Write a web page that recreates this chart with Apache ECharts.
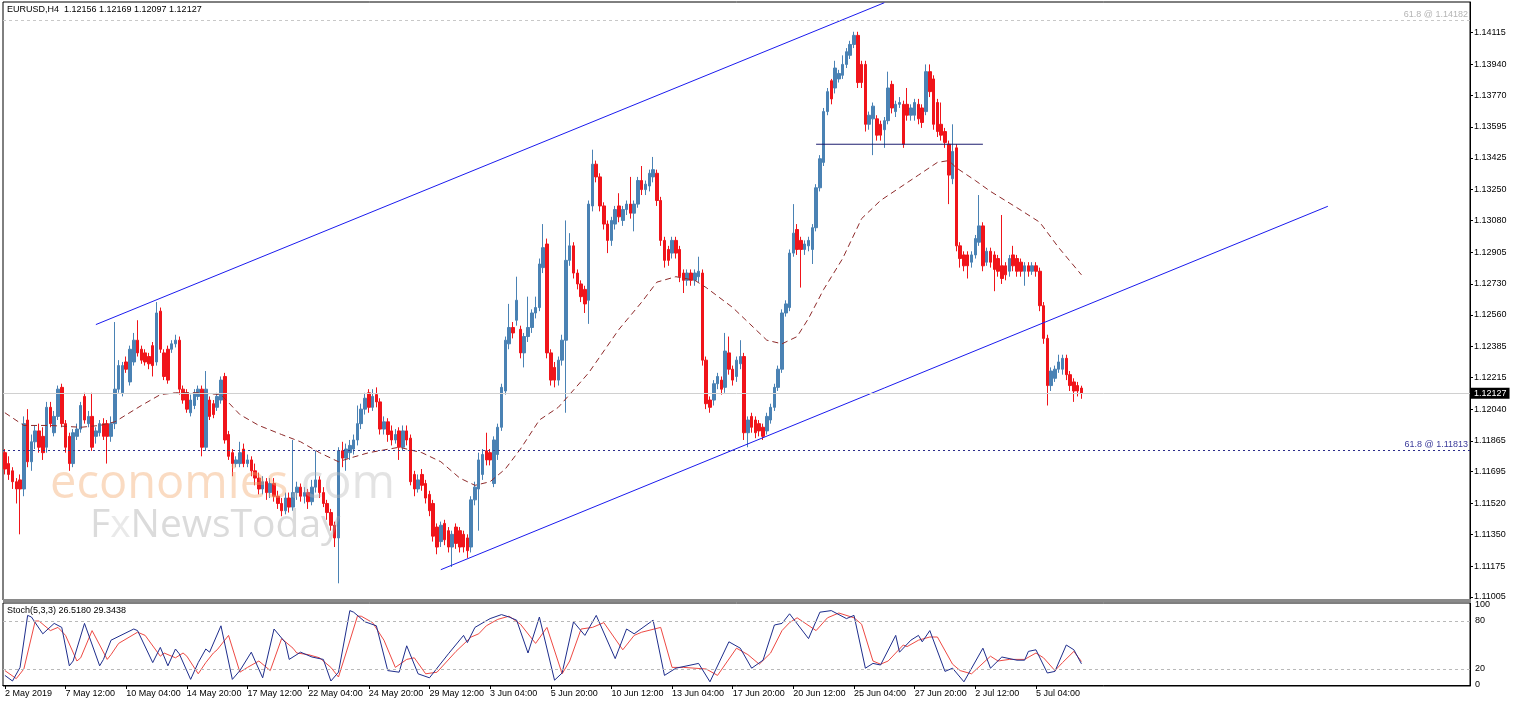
<!DOCTYPE html>
<html>
<head>
<meta charset="utf-8">
<script src="https://cdn.jsdelivr.net/npm/echarts@6.0.0/dist/echarts.min.js"></script>
<style>
html,body{margin:0;padding:0;background:#fff;}
#chart{width:1515px;height:706px;}
</style>
</head>
<body>
<div id="chart"></div>
<script>
// ---------- DATA ----------
const symbolTitle = 'EURUSD,H4  1.12156 1.12169 1.12097 1.12127';
const stochTitle = 'Stoch(5,3,3) 26.5180 29.3438';
const tickLabels = ['2 May 2019','7 May 12:00','10 May 04:00','14 May 20:00','17 May 12:00','22 May 04:00','24 May 20:00','29 May 12:00','3 Jun 04:00','5 Jun 20:00','10 Jun 12:00','13 Jun 04:00','17 Jun 20:00','20 Jun 12:00','25 Jun 04:00','27 Jun 20:00','2 Jul 12:00','5 Jul 04:00'];
const barsPerTick = 16;
const slotCount = 387; // bar slots across the chart width (chart shifted)
const priceTicks = [1.14115,1.13940,1.13770,1.13595,1.13425,1.13250,1.13080,1.12905,1.12730,1.12560,1.12385,1.12215,1.12040,1.11865,1.11695,1.11520,1.11350,1.11175,1.11005];
const stochTicks = [0,20,80,100];
const lastPrice = 1.12127;
const fiboTop = 1.14182;
const fiboBottom = 1.11813;

// [open, close, low, high]
const ohlc = [
[1.1180,1.1171,1.1168,1.1182],[1.1174,1.1168,1.1165,1.1178],[1.1170,1.1164,1.1160,1.1172],[1.1164,1.1160,1.1152,1.1166],
[1.1165,1.1160,1.1135,1.1168],[1.1160,1.1196,1.1156,1.1200],[1.1198,1.1175,1.1172,1.1204],[1.1175,1.1186,1.1170,1.1190],
[1.1186,1.1192,1.1182,1.1195],[1.1192,1.1183,1.1180,1.1196],[1.1189,1.1180,1.1176,1.1194],[1.1183,1.1205,1.1180,1.1208],
[1.1205,1.1196,1.1194,1.1208],[1.1191,1.1200,1.1189,1.1203],[1.1200,1.1215,1.1198,1.1217],[1.1216,1.1196,1.1194,1.1218],
[1.1196,1.1183,1.1180,1.1198],[1.1189,1.1174,1.1170,1.1191],[1.1174,1.1191,1.1172,1.1193],[1.1189,1.1193,1.1187,1.1196],
[1.1193,1.1206,1.1191,1.1208],[1.1211,1.1198,1.1196,1.1213],[1.1196,1.1200,1.1194,1.1203],[1.1200,1.1183,1.1181,1.1213],
[1.1189,1.1192,1.1185,1.1194],[1.1191,1.1196,1.1189,1.1198],[1.1196,1.1189,1.1187,1.1199],[1.1196,1.1189,1.1174,1.1198],
[1.1189,1.1196,1.1186,1.1200],[1.1196,1.1215,1.1193,1.1252],[1.1215,1.1228,1.1213,1.1231],[1.1213,1.1228,1.1211,1.1230],
[1.1230,1.1226,1.1224,1.1233],[1.1219,1.1237,1.1217,1.1239],[1.1230,1.1242,1.1228,1.1246],[1.1242,1.1235,1.1233,1.1253],
[1.1237,1.1231,1.1229,1.1239],[1.1235,1.1230,1.1228,1.1237],[1.1233,1.1229,1.1226,1.1235],[1.1239,1.1228,1.1222,1.1241],
[1.1230,1.1257,1.1228,1.1263],[1.1258,1.1237,1.1235,1.1260],[1.1235,1.1222,1.1220,1.1237],[1.1237,1.1220,1.1218,1.1239],
[1.1237,1.1240,1.1235,1.1242],[1.1240,1.1242,1.1238,1.1245],[1.1242,1.1215,1.1212,1.1244],[1.1215,1.1209,1.1207,1.1217],
[1.1213,1.1204,1.1202,1.1215],[1.1202,1.1209,1.1200,1.1212],[1.1206,1.1213,1.1204,1.1215],[1.1211,1.1215,1.1209,1.1217],
[1.1215,1.1183,1.1178,1.1217],[1.1183,1.1215,1.1181,1.1225],[1.1209,1.1200,1.1198,1.1211],[1.1207,1.1201,1.1199,1.1209],
[1.1205,1.1211,1.1203,1.1213],[1.1209,1.1220,1.1207,1.1222],[1.1222,1.1187,1.1185,1.1224],[1.1190,1.1178,1.1176,1.1192],
[1.1180,1.1174,1.1167,1.1182],[1.1174,1.1176,1.1172,1.1178],[1.1174,1.1180,1.1172,1.1186],[1.1182,1.1174,1.1172,1.1185],
[1.1174,1.1176,1.1172,1.1179],[1.1176,1.1170,1.1167,1.1178],
[1.1170,1.1166,1.1162,1.1174],[1.1166,1.1160,1.1157,1.1169],[1.1160,1.1164,1.1157,1.1167],[1.1164,1.1158,1.1154,1.1166],
[1.1158,1.1163,1.1155,1.1166],[1.1163,1.1156,1.1153,1.1166],[1.1156,1.1152,1.1149,1.1159],[1.1152,1.1148,1.1145,1.1155],
[1.1148,1.1155,1.1146,1.1158],[1.1155,1.1150,1.1147,1.1158],[1.1150,1.1158,1.1148,1.1187],[1.1158,1.1161,1.1154,1.1164],
[1.1161,1.1156,1.1153,1.1163],[1.1156,1.1158,1.1152,1.1161],[1.1158,1.1153,1.1149,1.1160],[1.1153,1.1161,1.1151,1.1165],
[1.1161,1.1165,1.1158,1.1181],[1.1165,1.1158,1.1155,1.1167],[1.1158,1.1152,1.1150,1.1161],[1.1152,1.1147,1.1143,1.1154],
[1.1147,1.1140,1.1137,1.1149],[1.1140,1.1133,1.1128,1.1142],[1.1133,1.1181,1.1108,1.1183],
[1.1181,1.1177,1.1172,1.1186],[1.1177,1.1182,1.1170,1.1185],[1.1180,1.1184,1.1176,1.1187],[1.1182,1.1187,1.1179,1.1190],
[1.1187,1.1196,1.1184,1.1206],[1.1196,1.1204,1.1193,1.1207],[1.1204,1.1210,1.1201,1.1213],[1.1213,1.1205,1.1202,1.1215],
[1.1205,1.1211,1.1203,1.1215],[1.1212,1.1208,1.1205,1.1216],[1.1208,1.1193,1.1190,1.1210],[1.1193,1.1197,1.1190,1.1200],
[1.1197,1.1190,1.1186,1.1199],[1.1192,1.1187,1.1184,1.1195],[1.1187,1.1190,1.1185,1.1193],[1.1192,1.1183,1.1176,1.1194],
[1.1183,1.1192,1.1181,1.1195],[1.1192,1.1187,1.1184,1.1195],[1.1188,1.1164,1.1162,1.1190],[1.1168,1.1160,1.1156,1.1170],
[1.1160,1.1165,1.1158,1.1168],[1.1168,1.1162,1.1159,1.1171],[1.1163,1.1155,1.1152,1.1165],[1.1157,1.1148,1.1145,1.1159],
[1.1152,1.1134,1.1131,1.1154],[1.1139,1.1128,1.1124,1.1141],[1.1131,1.1140,1.1128,1.1142],[1.1141,1.1132,1.1129,1.1143],
[1.1137,1.1128,1.1125,1.1139],[1.1128,1.1135,1.1117,1.1137],[1.1139,1.1130,1.1127,1.1141],[1.1137,1.1128,1.1125,1.1139],
[1.1135,1.1128,1.1125,1.1137],[1.1133,1.1126,1.1122,1.1135],[1.1128,1.1154,1.1125,1.1156],[1.1154,1.1161,1.1151,1.1164],
[1.1160,1.1176,1.1137,1.1180],[1.1168,1.1179,1.1165,1.1182],[1.1181,1.1176,1.1173,1.1191],[1.1180,1.1176,1.1173,1.1182],
[1.1163,1.1187,1.1161,1.1189],[1.1179,1.1194,1.1176,1.1196],[1.1194,1.1216,1.1192,1.1218],[1.1214,1.1242,1.1212,1.1244],
[1.1240,1.1249,1.1237,1.1262],[1.1249,1.1246,1.1243,1.1252],[1.1253,1.1264,1.1250,1.1277],[1.1248,1.1235,1.1232,1.1250],
[1.1235,1.1244,1.1227,1.1246],[1.1244,1.1249,1.1241,1.1266],[1.1249,1.1257,1.1246,1.1259],[1.1257,1.1260,1.1254,1.1266],
[1.1260,1.1284,1.1258,1.1287],[1.1282,1.1293,1.1279,1.1306],[1.1295,1.1235,1.1232,1.1298],
[1.1235,1.1220,1.1217,1.1237],[1.1227,1.1220,1.1216,1.1230],[1.1220,1.1231,1.1217,1.1233],[1.1231,1.1242,1.1228,1.1245],
[1.1242,1.1286,1.1202,1.1308],[1.1286,1.1294,1.1283,1.1301],[1.1294,1.1279,1.1276,1.1296],[1.1279,1.1273,1.1270,1.1281],
[1.1273,1.1266,1.1263,1.1275],[1.1270,1.1262,1.1257,1.1272],[1.1264,1.1317,1.1251,1.1319],[1.1316,1.1339,1.1313,1.1347],
[1.1339,1.1332,1.1329,1.1341],[1.1332,1.1316,1.1313,1.1334],[1.1316,1.1306,1.1303,1.1318],[1.1306,1.1297,1.1290,1.1308],
[1.1297,1.1308,1.1294,1.1310],[1.1306,1.1314,1.1303,1.1316],[1.1316,1.1310,1.1307,1.1323],[1.1308,1.1314,1.1305,1.1316],
[1.1314,1.1317,1.1311,1.1319],[1.1317,1.1312,1.1309,1.1332],[1.1312,1.1317,1.1302,1.1319],[1.1317,1.1330,1.1315,1.1332],
[1.1330,1.1325,1.1322,1.1338],[1.1325,1.1328,1.1322,1.1330],[1.1327,1.1334,1.1324,1.1336],[1.1332,1.1336,1.1329,1.1343],
[1.1334,1.1319,1.1316,1.1336],[1.1319,1.1297,1.1294,1.1321],[1.1297,1.1286,1.1282,1.1299],[1.1292,1.1286,1.1283,1.1294],
[1.1290,1.1297,1.1287,1.1299],[1.1297,1.1290,1.1287,1.1299],[1.1292,1.1277,1.1274,1.1294],[1.1279,1.1275,1.1268,1.1281],
[1.1275,1.1279,1.1272,1.1281],[1.1279,1.1275,1.1272,1.1281],[1.1275,1.1279,1.1272,1.1281],[1.1277,1.1280,1.1274,1.1288],
[1.1279,1.1231,1.1228,1.1281],[1.1231,1.1207,1.1204,1.1233],[1.1209,1.1205,1.1202,1.1211],[1.1209,1.1218,1.1206,1.1220],
[1.1218,1.1222,1.1215,1.1224],[1.1220,1.1215,1.1212,1.1222],[1.1216,1.1236,1.1213,1.1246],[1.1235,1.1226,1.1223,1.1244],
[1.1226,1.1220,1.1217,1.1228],[1.1222,1.1231,1.1219,1.1233],[1.1229,1.1233,1.1226,1.1242],[1.1233,1.1191,1.1187,1.1235],
[1.1191,1.1198,1.1183,1.1200],[1.1200,1.1194,1.1191,1.1202],[1.1198,1.1191,1.1188,1.1200],[1.1196,1.1192,1.1189,1.1198],
[1.1194,1.1189,1.1187,1.1196],[1.1192,1.1200,1.1190,1.1202],[1.1198,1.1205,1.1196,1.1207],[1.1205,1.1216,1.1203,1.1218],
[1.1216,1.1226,1.1214,1.1228],[1.1226,1.1257,1.1224,1.1259],[1.1257,1.1262,1.1255,1.1264],[1.1260,1.1290,1.1258,1.1292],
[1.1290,1.1301,1.1288,1.1317],[1.1303,1.1292,1.1289,1.1306],[1.1297,1.1292,1.1271,1.1299],[1.1292,1.1295,1.1289,1.1297],
[1.1294,1.1297,1.1291,1.1299],
[1.1292,1.1304,1.1284,1.1306],[1.1304,1.1326,1.1302,1.1328],[1.1326,1.1342,1.1324,1.1344],[1.1340,1.1368,1.1338,1.1370],
[1.1368,1.1379,1.1366,1.1381],[1.1385,1.1375,1.1372,1.1386],[1.1381,1.1392,1.1378,1.1396],[1.1386,1.1389,1.1384,1.1391],
[1.1388,1.1394,1.1386,1.1399],[1.1394,1.1401,1.1392,1.1403],[1.1399,1.1405,1.1397,1.1407],[1.1405,1.1410,1.1403,1.1412],
[1.1410,1.1384,1.1381,1.1412],[1.1394,1.1384,1.1381,1.1396],[1.1394,1.1361,1.1357,1.1396],[1.1361,1.1366,1.1358,1.1368],
[1.1364,1.1371,1.1344,1.1373],[1.1364,1.1355,1.1352,1.1366],[1.1361,1.1355,1.1352,1.1363],[1.1358,1.1363,1.1348,1.1365],
[1.1363,1.1381,1.1361,1.1390],[1.1383,1.1370,1.1367,1.1385],[1.1368,1.1372,1.1365,1.1374],[1.1372,1.1373,1.1370,1.1376],
[1.1372,1.1350,1.1348,1.1374],[1.1372,1.1366,1.1363,1.1381],[1.1366,1.1370,1.1363,1.1372],[1.1366,1.1373,1.1363,1.1375],
[1.1372,1.1364,1.1361,1.1375],[1.1370,1.1362,1.1359,1.1372],[1.1368,1.1390,1.1366,1.1394],[1.1390,1.1379,1.1376,1.1394],
[1.1386,1.1361,1.1358,1.1388],[1.1373,1.1357,1.1354,1.1375],[1.1361,1.1355,1.1352,1.1373],[1.1357,1.1351,1.1348,1.1359],
[1.1350,1.1333,1.1317,1.1352],[1.1331,1.1346,1.1328,1.1361],[1.1348,1.1294,1.1291,1.1350],[1.1294,1.1287,1.1282,1.1296],
[1.1289,1.1283,1.1280,1.1291],[1.1289,1.1283,1.1276,1.1291],[1.1285,1.1289,1.1282,1.1291],[1.1289,1.1298,1.1287,1.1300],
[1.1296,1.1305,1.1294,1.1322],[1.1305,1.1283,1.1280,1.1307],[1.1285,1.1291,1.1283,1.1293],[1.1291,1.1285,1.1282,1.1293],
[1.1289,1.1281,1.1269,1.1291],[1.1287,1.1280,1.1277,1.1289],[1.1283,1.1276,1.1273,1.1311],[1.1283,1.1278,1.1275,1.1285],
[1.1280,1.1287,1.1277,1.1289],[1.1289,1.1283,1.1280,1.1294],[1.1287,1.1280,1.1277,1.1289],[1.1285,1.1280,1.1277,1.1287],
[1.1280,1.1283,1.1272,1.1285],[1.1283,1.1280,1.1277,1.1285],[1.1280,1.1283,1.1278,1.1285],[1.1283,1.1280,1.1277,1.1285],
[1.1280,1.1261,1.1258,1.1282],[1.1261,1.1243,1.1240,1.1263],[1.1243,1.1217,1.1206,1.1245],[1.1217,1.1225,1.1214,1.1227],
[1.1221,1.1226,1.1219,1.1228],[1.1226,1.1230,1.1224,1.1234],[1.1226,1.1232,1.1223,1.1234],[1.1232,1.1223,1.1220,1.1234],
[1.1223,1.1217,1.1214,1.1225],[1.1219,1.1214,1.1208,1.1221],[1.1217,1.1214,1.1211,1.1219],[1.12156,1.12127,1.12097,1.12169]
];

// moving average: [bar, price]
const maPoints = [[0,1.1202],[5,1.1195],[12,1.1195],[20,1.1194],[25,1.1195],[29,1.1197],[36,1.1206],[41,1.1212],[45,1.1213],[51,1.1213],[57,1.1212],[62,1.1201],[67,1.1195],[73,1.1190],[78,1.1186],[83,1.1180],[88,1.1175],[91,1.1177],[96,1.1180],[104,1.1183],[110,1.1180],[115,1.1175],[120,1.1166],[124,1.1162],[128,1.1164],[132,1.1171],[136,1.1182],[141,1.1198],[146,1.1205],[154,1.1224],[162,1.1248],[168,1.1263],[172,1.1274],[177,1.1277],[182,1.1275],[185,1.1271],[192,1.1260],[201,1.1242],[205,1.1240],[209,1.1244],[212,1.1254],[216,1.1270],[221,1.1287],[226,1.1309],[231,1.1319],[236,1.1326],[241,1.1333],[246,1.1340],[249,1.1341],[251,1.1337],[256,1.1330],[260,1.1324],[267,1.1315],[273,1.1307],[278,1.1293],[284,1.1278]];

// drawn objects: [bar, price] end points
const upperChannel = [[24,1.12506],[232,1.14280]];
const lowerChannel = [[115,1.11155],[349,1.13158]];
const resistanceLine = [[214,1.13500],[258,1.13500]];

// stochastic (5,3,3): [bar, value]
const stochMain = [[0,12],[2,5],[4,22],[6,87],[7,85],[10,64],[13,77],[15,72],[17,24],[18,30],[21,77],[25,24],[26,32],[28,56],[34,70],[35,68],[39,28],[41,47],[43,24],[45,45],[46,39],[49,7],[51,28],[53,45],[54,41],[57,74],[60,7],[62,18],[65,41],[68,9],[71,70],[74,53],[75,32],[78,41],[81,35],[84,32],[86,5],[88,16],[91,93],[92,91],[95,79],[98,74],[101,18],[104,16],[106,49],[109,14],[112,9],[117,39],[121,62],[122,53],[124,72],[128,83],[131,88],[133,85],[135,81],[138,40],[141,85],[145,6],[147,15],[150,79],[153,62],[156,87],[161,33],[164,70],[166,64],[171,81],[174,12],[177,21],[183,27],[186,4],[191,54],[194,46],[197,21],[200,31],[203,75],[205,77],[207,89],[212,58],[215,91],[218,93],[222,83],[224,87],[227,21],[229,27],[231,25],[235,62],[236,41],[239,56],[241,62],[242,54],[244,68],[248,17],[250,21],[253,4],[258,46],[260,21],[263,35],[267,31],[269,31],[270,42],[272,44],[275,15],[277,17],[280,50],[282,44],[284,26.5]];
const stochSignal = [[0,18],[3,8],[5,20],[8,80],[9,80],[12,68],[14,72],[16,62],[19,30],[20,34],[23,68],[27,32],[28,38],[30,52],[35,66],[37,62],[41,36],[42,40],[45,34],[47,40],[48,36],[51,14],[53,28],[55,40],[56,44],[59,62],[62,16],[64,22],[67,30],[70,18],[73,58],[76,46],[77,40],[80,38],[83,34],[86,22],[88,10],[90,40],[93,86],[94,86],[97,78],[100,56],[103,22],[106,32],[108,34],[111,14],[114,16],[119,42],[123,60],[125,64],[127,74],[130,82],[133,86],[136,76],[140,52],[143,72],[147,14],[149,30],[152,70],[155,72],[158,78],[163,44],[166,62],[168,66],[173,72],[176,22],[179,22],[185,20],[188,12],[193,46],[196,38],[199,26],[202,40],[205,68],[207,78],[209,84],[214,68],[217,84],[220,90],[224,84],[226,76],[229,30],[231,26],[233,30],[237,50],[238,48],[241,56],[244,60],[246,60],[250,26],[252,18],[255,14],[260,36],[262,30],[265,32],[269,32],[272,40],[274,34],[277,18],[279,28],[282,42],[284,29.3]];
const stochLevels = [20, 80];

// ---------- CHART ----------
const FONT = 'Liberation Sans';
const slots = Array.from({length: slotCount}, (_, i) => String(i));
const tickShown = (i) => i % barsPerTick === 0 && (i / barsPerTick) < tickLabels.length;

const chart = echarts.init(document.getElementById('chart'), null, {renderer: 'canvas'});
chart.setOption({
  animation: false,
  backgroundColor: '#ffffff',
  textStyle: {fontFamily: FONT},
  grid: [
    {left: 3, right: 45, top: 2, height: 598, show: true, borderColor: '#000', borderWidth: 1},
    {left: 3, right: 45, top: 603, height: 83, show: true, borderColor: '#000', borderWidth: 1}
  ],
  xAxis: [
    {type: 'category', gridIndex: 0, data: slots, boundaryGap: true, show: false},
    {type: 'category', gridIndex: 1, data: slots, boundaryGap: true,
      axisLine: {show: true, lineStyle: {color: '#000'}},
      axisTick: {show: true, interval: tickShown, alignWithLabel: true, length: 4, lineStyle: {color: '#000'}},
      axisLabel: {show: true, interval: tickShown, align: 'left', margin: 3, fontSize: 9, color: '#000', fontFamily: FONT,
        formatter: (v, i) => tickLabels[i / barsPerTick] || ''},
      splitLine: {show: false}}
  ],
  yAxis: [
    {type: 'value', gridIndex: 0, position: 'right', min: 1.10988, max: 1.14284,
      axisLine: {show: true, lineStyle: {color: '#000'}},
      axisTick: {show: true, length: 3, customValues: priceTicks, lineStyle: {color: '#000'}},
      axisLabel: {show: true, customValues: priceTicks, margin: 4, fontSize: 9, color: '#000', fontFamily: FONT,
        formatter: (v) => v.toFixed(5)},
      splitLine: {show: false}},
    {type: 'value', gridIndex: 1, position: 'right', min: -1.25, max: 102.5,
      axisLine: {show: true, lineStyle: {color: '#000'}},
      axisTick: {show: false},
      axisLabel: {show: true, customValues: stochTicks, margin: 5, fontSize: 9, color: '#000', fontFamily: FONT},
      splitLine: {show: false}}
  ],
  graphic: [
    {type: 'rect', left: 3, top: 599, shape: {width: 1468, height: 3}, style: {fill: '#8a8a8a'}, z: 50},
    {type: 'text', left: 7, top: 5, style: {text: symbolTitle, fill: '#000', font: '9px ' + FONT}, z: 50},
    {type: 'text', left: 7, top: 606, style: {text: stochTitle, fill: '#000', font: '9px ' + FONT}, z: 50},
    {type: 'text', left: 50, top: 461, z: 40, silent: true,
      style: {text: '{a|economies}{b|.com}', rich: {
        a: {fontSize: 47, fontFamily: 'Open Sans', fill: 'rgba(243,170,110,0.42)'},
        b: {fontSize: 47, fontFamily: 'Open Sans', fill: 'rgba(185,185,185,0.40)'}}}},
    {type: 'text', left: 90, top: 506, z: 40, silent: true,
      style: {text: '{a|F}{b|x}{a|NewsToday}', rich: {
        a: {fontSize: 39, fontFamily: 'Open Sans', fill: 'rgba(165,165,165,0.40)'},
        b: {fontSize: 39, fontFamily: 'Open Sans', fill: 'rgba(200,200,200,0.40)'}}}}
  ],
  series: [
    {type: 'candlestick', name: 'EURUSD', xAxisIndex: 0, yAxisIndex: 0, data: ohlc, barWidth: 3,
      itemStyle: {color: '#4a82b4', color0: '#f0141a', borderColor: '#4a82b4', borderColor0: '#f0141a', borderWidth: 1}},
    {type: 'line', name: 'MA', xAxisIndex: 0, yAxisIndex: 0, data: maPoints, symbol: 'none', silent: true,
      lineStyle: {color: '#8e2a2a', width: 1, type: [6, 4]}, z: 3,
      markLine: {silent: true, symbol: 'none', animation: false, precision: 5,
        data: [
          {yAxis: fiboTop, lineStyle: {color: '#c8c8c8', type: [3, 3], width: 1},
            label: {show: true, position: 'insideEndTop', formatter: '61.8 @ ' + fiboTop.toFixed(5), color: '#b4b4b4', fontSize: 9, fontFamily: FONT, distance: [2, 1]}},
          {yAxis: fiboBottom, lineStyle: {color: '#2d2d8c', type: [2, 3], width: 1},
            label: {show: true, position: 'insideEndTop', formatter: '61.8 @ ' + fiboBottom.toFixed(5), color: '#3a3a9a', fontSize: 9, fontFamily: FONT, distance: [2, 1]}},
          {yAxis: lastPrice, lineStyle: {color: '#d0d0d0', type: 'solid', width: 1},
            label: {show: true, position: 'end', formatter: lastPrice.toFixed(5), color: '#fff', backgroundColor: '#000', padding: [1, 3, 1, 3], fontSize: 9, fontFamily: FONT, distance: 1}}
        ]}},
    {type: 'line', name: 'upper', xAxisIndex: 0, yAxisIndex: 0, data: upperChannel, symbol: 'none', silent: true,
      lineStyle: {color: '#1a1aee', width: 1}, z: 4},
    {type: 'line', name: 'lower', xAxisIndex: 0, yAxisIndex: 0, data: lowerChannel, symbol: 'none', silent: true,
      lineStyle: {color: '#1a1aee', width: 1}, z: 4},
    {type: 'line', name: 'resistance', xAxisIndex: 0, yAxisIndex: 0, data: resistanceLine, symbol: 'none', silent: true,
      lineStyle: {color: '#1c1c6e', width: 1}, z: 4},
    {type: 'line', name: 'Stoch', xAxisIndex: 1, yAxisIndex: 1, data: stochMain, symbol: 'none', silent: true,
      lineStyle: {color: '#1e2d8c', width: 1}, z: 4,
      markLine: {silent: true, symbol: 'none', label: {show: false},
        lineStyle: {color: '#b9b9b9', type: [3, 3], width: 1},
        data: stochLevels.map(v => ({yAxis: v}))}},
    {type: 'line', name: 'Signal', xAxisIndex: 1, yAxisIndex: 1, data: stochSignal, symbol: 'none', silent: true,
      lineStyle: {color: '#ee4a44', width: 1}, z: 3}
  ]
});
</script>
</body>
</html>
